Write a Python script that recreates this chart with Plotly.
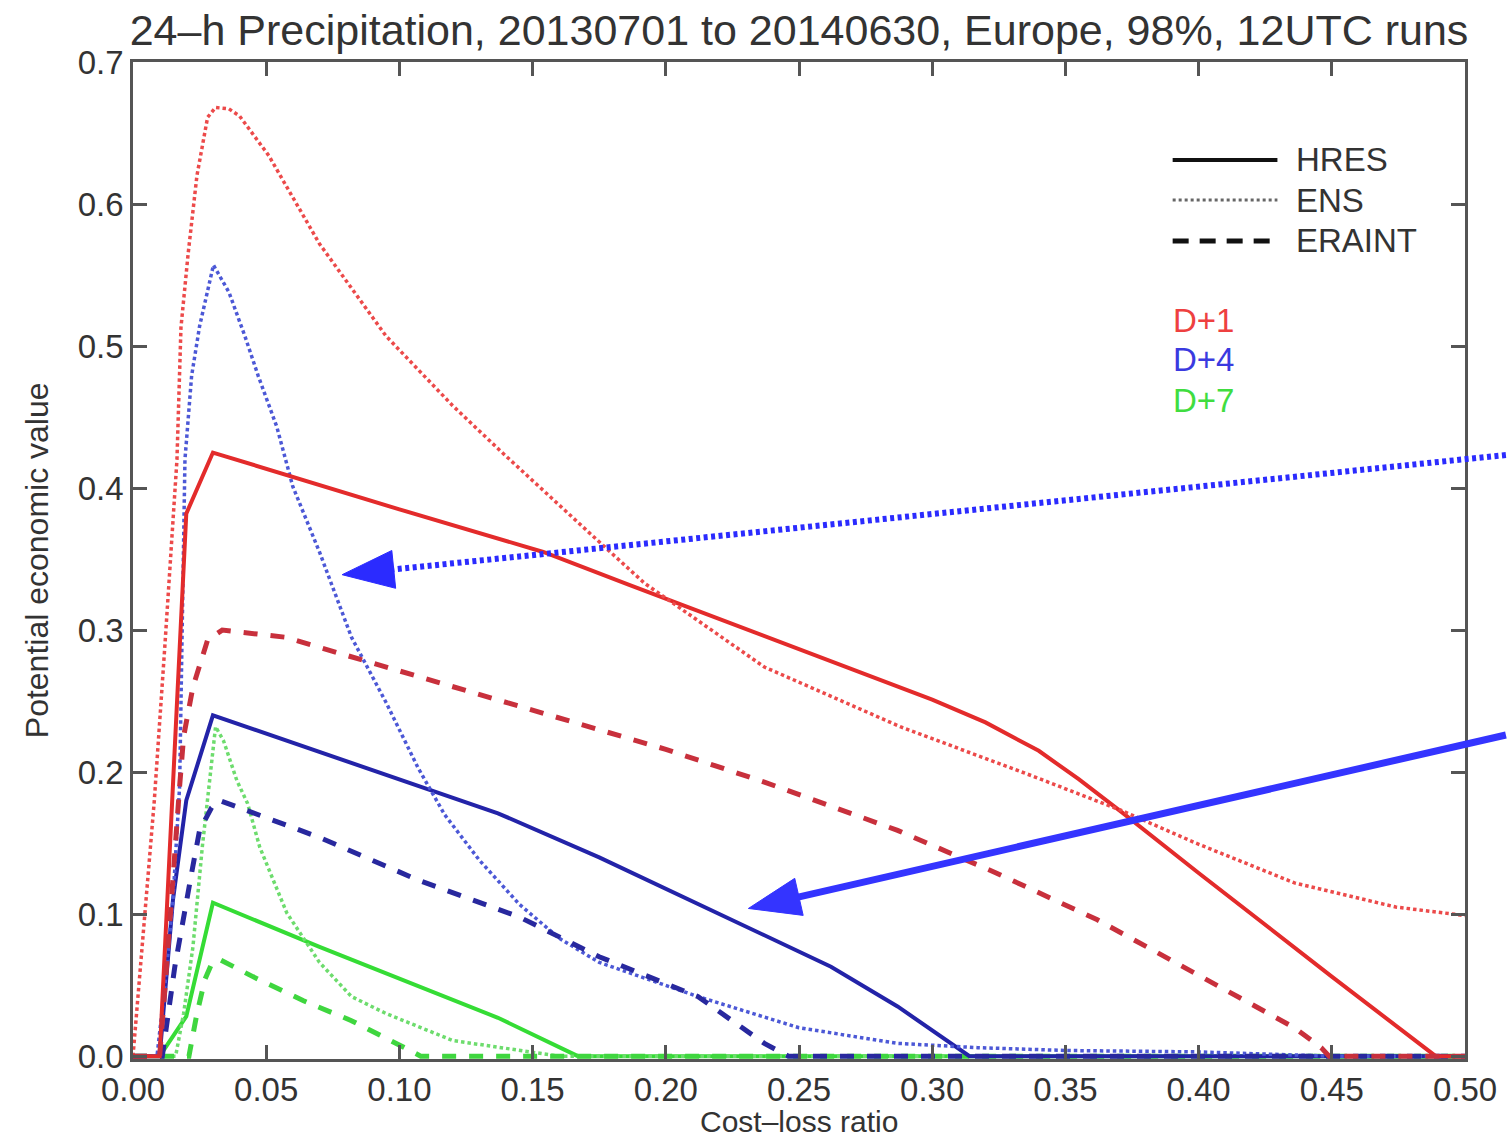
import math
import plotly.graph_objects as go

# ---------------- data ----------------
# D+1 (red)
hres_d1_x = [0, 0.01, 0.02, 0.03, 0.10, 0.154, 0.186, 0.237, 0.271, 0.30, 0.32, 0.34, 0.355, 0.371, 0.40, 0.45, 0.489, 0.5]
hres_d1_y = [0, 0, 0.382, 0.425, 0.385, 0.355, 0.332, 0.296, 0.272, 0.251, 0.235, 0.215, 0.195, 0.172, 0.129, 0.056, 0, 0]

ens_d1_x = [0, 0.004, 0.008, 0.012, 0.0165, 0.018, 0.0207, 0.024, 0.028, 0.031, 0.036, 0.04, 0.051, 0.07, 0.095,
            0.12, 0.138, 0.171, 0.192, 0.237, 0.288, 0.338, 0.371, 0.399, 0.436, 0.474, 0.5]
ens_d1_y = [0, 0.09, 0.18, 0.29, 0.42, 0.513, 0.565, 0.62, 0.661, 0.668, 0.667, 0.662, 0.634, 0.572, 0.507,
            0.458, 0.426, 0.369, 0.333, 0.274, 0.232, 0.197, 0.173, 0.150, 0.122, 0.105, 0.099]

eraint_d1_x = [0, 0.01, 0.0125, 0.015, 0.0175, 0.019, 0.0225, 0.028, 0.0335, 0.057, 0.095, 0.145, 0.20, 0.237,
               0.287, 0.324, 0.362, 0.399, 0.436, 0.446, 0.449, 0.5]
eraint_d1_y = [0, 0, 0.06, 0.13, 0.19, 0.225, 0.26, 0.293, 0.300, 0.295, 0.274, 0.247, 0.216, 0.193,
               0.159, 0.129, 0.096, 0.058, 0.020, 0.006, 0, 0]

# D+4 (blue)
hres_d4_x = [0, 0.01, 0.015, 0.02, 0.03, 0.137, 0.175, 0.225, 0.262, 0.287, 0.314, 0.5]
hres_d4_y = [0, 0, 0.11, 0.18, 0.24, 0.171, 0.140, 0.096, 0.063, 0.035, 0, 0]

ens_d4_x = [0, 0.009, 0.012, 0.015, 0.0175, 0.0185, 0.0195, 0.022, 0.025, 0.0302, 0.036, 0.042, 0.047, 0.054,
            0.06, 0.07, 0.082, 0.095, 0.107, 0.117, 0.13, 0.145, 0.16, 0.175, 0.212, 0.25, 0.287, 0.317,
            0.35, 0.40, 0.43, 0.45, 0.5]
ens_d4_y = [0, 0, 0.05, 0.11, 0.19, 0.30, 0.42, 0.479, 0.514, 0.557, 0.538, 0.507, 0.479, 0.443,
            0.401, 0.355, 0.295, 0.249, 0.203, 0.170, 0.138, 0.107, 0.083, 0.066, 0.042, 0.020, 0.009, 0.006,
            0.004, 0.003, 0.001, 0, 0]

eraint_d4_x = [0, 0.011, 0.0157, 0.019, 0.022, 0.025, 0.0295, 0.0326, 0.07, 0.107, 0.145, 0.175, 0.212, 0.237, 0.246, 0.5]
eraint_d4_y = [0, 0, 0.063, 0.10, 0.129, 0.159, 0.175, 0.180, 0.154, 0.124, 0.098, 0.070, 0.042, 0.009, 0, 0]

# D+7 (green)
hres_d7_x = [0, 0.01, 0.02, 0.03, 0.07, 0.137, 0.167, 0.5]
hres_d7_y = [0, 0, 0.028, 0.108, 0.077, 0.027, 0, 0]

ens_d7_x = [0, 0.016, 0.019, 0.0225, 0.026, 0.0285, 0.031, 0.034, 0.039, 0.043, 0.0476, 0.0577, 0.070, 0.082,
            0.095, 0.12, 0.145, 0.16, 0.5]
ens_d7_y = [0, 0, 0.03, 0.077, 0.147, 0.19, 0.232, 0.222, 0.194, 0.178, 0.147, 0.101, 0.066, 0.042,
            0.030, 0.011, 0.004, 0, 0]

eraint_d7_x = [0, 0.021, 0.024, 0.027, 0.0295, 0.0326, 0.045, 0.064, 0.082, 0.095, 0.104, 0.108, 0.5]
eraint_d7_y = [0, 0, 0.030, 0.054, 0.065, 0.068, 0.056, 0.039, 0.025, 0.013, 0.004, 0, 0]

x_tick_vals = [0.00, 0.05, 0.10, 0.15, 0.20, 0.25, 0.30, 0.35, 0.40, 0.45, 0.50]
x_tick_text = ["0.00", "0.05", "0.10", "0.15", "0.20", "0.25", "0.30", "0.35", "0.40", "0.45", "0.50"]
y_tick_vals = [0.0, 0.1, 0.2, 0.3, 0.4, 0.5, 0.6, 0.7]
y_tick_text = ["0.0", "0.1", "0.2", "0.3", "0.4", "0.5", "0.6", "0.7"]

title_text = "24–h Precipitation, 20130701 to 20140630, Europe, 98%, 12UTC runs"
x_title = "Cost–loss ratio"
y_title = "Potential economic value"
model_names = ["HRES", "ENS", "ERAINT"]
lead_names = ["D+1", "D+4", "D+7"]

# ---------------- layout geometry ----------------
W, H = 1509, 1140
ML, MR, MT, MB = 133, 41, 62, 81
PW, PH = W - ML - MR, H - MT - MB
X_RANGE = [0.0, 0.5]
Y_RANGE = [-0.002, 0.7]
FONT = "Liberation Sans, Arial, Helvetica, sans-serif"
TXT = "#333333"


def data_to_px(x, y):
    px = ML + (x - X_RANGE[0]) / (X_RANGE[1] - X_RANGE[0]) * PW
    py = MT + (Y_RANGE[1] - y) / (Y_RANGE[1] - Y_RANGE[0]) * PH
    return px, py


def px_to_paper(px, py):
    return (px - ML) / PW, (H - MB - py) / PH


# ---------------- styles ----------------
RED_S, RED_O, RED_D = "#e32b2b", "#ec4a4a", "#c8303c"
BLU_S, BLU_O, BLU_D = "#2323a8", "#4c58d6", "#28289e"
GRN_S, GRN_O, GRN_D = "#35dc35", "#6ddc6d", "#3fd63f"
DOT = "3.5px,3px"
DASH = "14px,13px"

series = [
    (hres_d7_x, hres_d7_y, GRN_S, 4, "solid"),
    (ens_d7_x, ens_d7_y, GRN_O, 3.5, DOT),
    (eraint_d7_x, eraint_d7_y, GRN_D, 5, DASH),
    (hres_d4_x, hres_d4_y, BLU_S, 4, "solid"),
    (ens_d4_x, ens_d4_y, BLU_O, 3.5, DOT),
    (eraint_d4_x, eraint_d4_y, BLU_D, 5, DASH),
    (hres_d1_x, hres_d1_y, RED_S, 4, "solid"),
    (ens_d1_x, ens_d1_y, RED_O, 3.5, DOT),
    (eraint_d1_x, eraint_d1_y, RED_D, 5, DASH),
]

fig = go.Figure()
for xs, ys, col, wid, dash in series:
    fig.add_trace(go.Scatter(x=xs, y=ys, mode="lines",
                             line=dict(color=col, width=wid, dash=dash),
                             showlegend=False, hoverinfo="skip"))

shapes = []
annotations = []

# ---------------- custom legend ----------------
leg_x0, leg_x1, leg_text_x = 1175, 1280, 1297
leg_rows = [(160, "solid", "#111111", 4), (200, "3px,3px", "#666666", 3), (241, "16px,11px", "#111111", 5)]
for (py, dash, col, wid), name in zip(leg_rows, model_names):
    a0 = px_to_paper(leg_x0, py)
    a1 = px_to_paper(leg_x1, py)
    shapes.append(dict(type="line", xref="paper", yref="paper", x0=a0[0], y0=a0[1], x1=a1[0], y1=a1[1],
                       line=dict(color=col, width=wid, dash=dash)))
    tp = px_to_paper(leg_text_x, py)
    annotations.append(dict(xref="paper", yref="paper", x=tp[0], y=tp[1], text=name, showarrow=False,
                            xanchor="left", yanchor="middle", font=dict(family=FONT, size=33, color=TXT)))

lead_rows = [(320, "#ee4040"), (360, "#3a3ae0"), (400, "#40dd40")]
for (py, col), name in zip(lead_rows, lead_names):
    tp = px_to_paper(1173, py)
    annotations.append(dict(xref="paper", yref="paper", x=tp[0], y=tp[1], text=name, showarrow=False,
                            xanchor="left", yanchor="middle", font=dict(family=FONT, size=33, color=col)))

# ---------------- arrows (tips in data coordinates, tails at the right image edge) ----------------
arrows = [
    ((0.0785, 0.339), (1509, 455), "#2b2bff", "4px,3.5px", 6),
    ((0.231, 0.104), (1509, 735), "#3434ff", "solid", 7),
]
HEAD_L, HEAD_W = 52, 19
for (tx, ty), (sx, sy), col, dash, wid in arrows:
    tpx, tpy = data_to_px(tx, ty)
    dx, dy = tpx - sx, tpy - sy
    d = math.hypot(dx, dy)
    ux, uy = dx / d, dy / d
    nx, ny = -uy, ux
    bx, by = tpx - HEAD_L * ux, tpy - HEAD_L * uy
    p_tail = px_to_paper(sx, sy)
    p_base = px_to_paper(bx + 2 * ux, by + 2 * uy)
    shapes.append(dict(type="line", xref="paper", yref="paper", x0=p_tail[0], y0=p_tail[1],
                       x1=p_base[0], y1=p_base[1], line=dict(color=col, width=wid, dash=dash)))
    c1 = px_to_paper(bx + HEAD_W * nx, by + HEAD_W * ny)
    c2 = px_to_paper(bx - HEAD_W * nx, by - HEAD_W * ny)
    tipp = px_to_paper(tpx, tpy)
    path = f"M {tipp[0]},{tipp[1]} L {c1[0]},{c1[1]} L {c2[0]},{c2[1]} Z"
    shapes.append(dict(type="path", xref="paper", yref="paper", path=path,
                       fillcolor=col, line=dict(color=col, width=1)))

# ---------------- axis titles ----------------
xt = px_to_paper(800, 1121)
annotations.append(dict(xref="paper", yref="paper", x=xt[0], y=xt[1], text=x_title, showarrow=False,
                        xanchor="center", yanchor="middle", font=dict(family=FONT, size=30, color=TXT)))
yt = px_to_paper(37, 560)
annotations.append(dict(xref="paper", yref="paper", x=yt[0], y=yt[1], text=y_title, showarrow=False,
                        textangle=-90, xanchor="center", yanchor="middle",
                        font=dict(family=FONT, size=32, color=TXT)))

axis_common = dict(showgrid=False, zeroline=False, showline=True, linecolor="#555555", linewidth=2.5,
                   mirror="ticks", ticks="inside", ticklen=14, tickwidth=2.5, tickcolor="#555555",
                   tickfont=dict(family=FONT, size=33, color=TXT))

fig.update_layout(
    width=W, height=H,
    margin=dict(l=ML, r=MR, t=MT, b=MB, pad=0),
    paper_bgcolor="white", plot_bgcolor="white",
    title=dict(text=title_text, x=0.5, xref="paper", xanchor="center",
               y=1 - 30 / H, yref="container", yanchor="middle",
               font=dict(family=FONT, size=43, color=TXT)),
    xaxis=dict(range=X_RANGE, tickvals=x_tick_vals, ticktext=x_tick_text, ticklabelstandoff=0, **axis_common),
    yaxis=dict(range=Y_RANGE, tickvals=y_tick_vals, ticktext=y_tick_text, ticklabelstandoff=0, **axis_common),
    shapes=shapes,
    annotations=annotations,
    showlegend=False,
)

fig.write_html("out.html")
